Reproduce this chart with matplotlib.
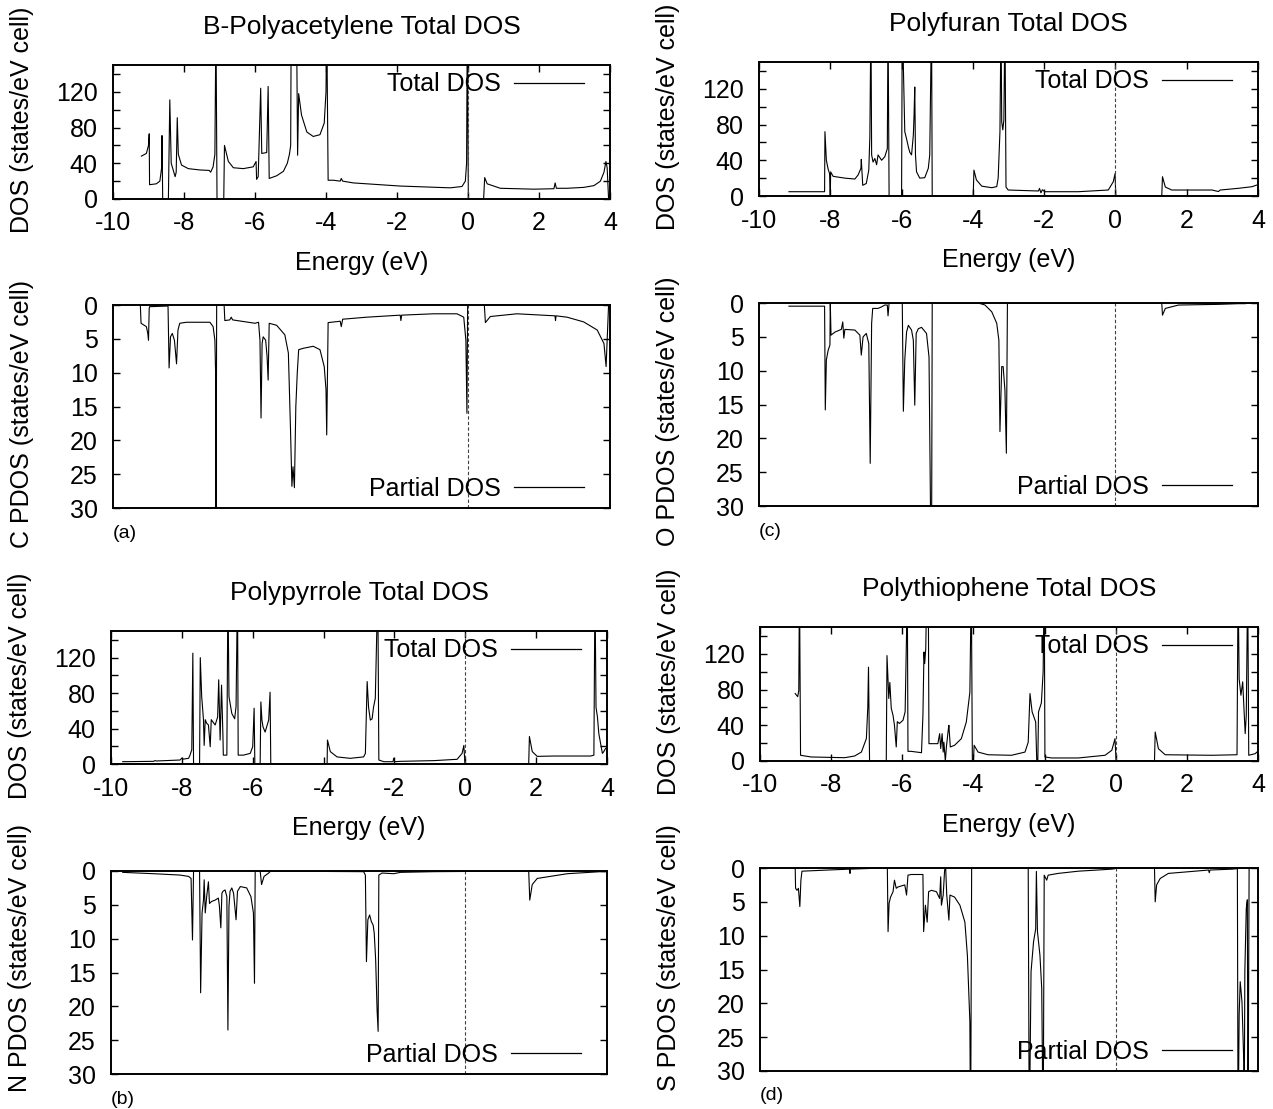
import matplotlib
matplotlib.use("Agg")
import matplotlib.pyplot as plt
from matplotlib.lines import Line2D

plt.rcParams['font.family'] = ['Liberation Sans', 'DejaVu Sans']
plt.rcParams['axes.unicode_minus'] = False

W, H = 1273, 1109
FS = 18

# ---------------- data (energy in eV, DOS in states/eV cell) ----------------
# (a) B-Polyacetylene
a_tot_e = [-9.20, -9.06, -9.00, -8.98, -8.97, -8.78, -8.68, -8.63, -8.62, -8.60, -8.44, -8.40, -8.36,
           -8.25, -8.22, -8.19, -8.16, -8.07, -7.88, -7.55, -7.29, -7.25, -7.18, -7.13, -7.10, -7.07,
           -6.88, -6.86, -6.75, -6.61, -6.33, -6.05, -5.97, -5.955, -5.91, -5.84, -5.81, -5.67, -5.63,
           -5.60, -5.39, -5.20, -5.09, -5.03, -4.995, -4.98, -4.83, -4.80, -4.77, -4.69, -4.54, -4.36,
           -4.17, -4.05, -4.00, -3.98, -3.94, -3.79, -3.60, -3.57, -3.53, -3.23, -1.91, -0.50, -0.17,
           -0.075, -0.04, -0.02, 0.01, 0.44, 0.47, 0.54, 0.91, 1.85, 2.42, 2.455, 2.49, 2.79, 3.26,
           3.55, 3.73, 3.83, 3.885, 3.92, 3.96]
a_tot = [48, 51, 60, 73, 16, 17, 20, 35, 71, 0, 0, 111, 40,
         25, 30, 91, 50, 38, 34, 32.5, 32, 30, 36, 50, 200, 0,
         0, 60, 42, 35, 34, 36, 42, 22, 25, 124, 51, 52, 126,
         23, 26, 31, 40, 50, 60, 200, 200, 49, 118, 94, 75, 70,
         72, 85, 120, 200, 21, 21, 20, 23, 20, 18, 14.5, 12.5, 14,
         20, 40, 200, 0, 0, 24, 17, 12, 11, 11.5, 18, 12, 12, 13,
         15, 20, 30, 42, 35, 0]
a_pdos_e = [-9.23, -9.21, -9.06, -9.02, -9.00, -8.98, -8.97, -8.45, -8.42, -8.38, -8.33, -8.27, -8.21,
            -8.17, -8.12, -7.93, -7.27, -7.18, -7.13, -7.11, -7.10, -7.08, -6.87, -6.85, -6.71, -6.67,
            -6.63, -6.00, -5.90, -5.86, -5.83, -5.80, -5.77, -5.70, -5.66, -5.63, -5.60, -5.39, -5.16,
            -5.06, -5.00, -4.96, -4.93, -4.89, -4.85, -4.81, -4.77, -4.64, -4.36, -4.17, -4.05, -4.00,
            -3.98, -3.94, -3.60, -3.57, -3.53, -2.85, -1.91, -1.89, -1.87, -0.97, -0.31, -0.12, -0.06,
            -0.03, -0.01, 0.46, 0.49, 0.63, 1.38, 2.45, 2.465, 2.48, 2.79, 3.26, 3.64, 3.83, 3.89,
            3.92, 3.96]
a_pdos = [0, 2.7, 3.2, 4.2, 5.2, 0.5, 0.25, 0.15, 9.3, 4.7, 4.2, 5.2, 8.7,
          3.7, 2.7, 2.55, 2.55, 3.2, 5.2, 10, 40, 0, 0, 2.3, 2.2, 1.8,
          2.2, 2.7, 2.55, 5.2, 16.7, 5.7, 4.7, 5.2, 7.6, 11.1, 2.7, 3.0, 4.4,
          7.1, 18.4, 26.8, 23.9, 27, 15, 10.1, 6.6, 6.4, 6.1, 6.6, 9.1, 12.5,
          19.2, 2.6, 2.4, 3.2, 2.1, 1.8, 1.5, 2.3, 1.5, 1.3, 1.3, 1.8, 5.2,
          16, 0, 0, 2.6, 1.7, 1.3, 1.6, 2.3, 1.6, 1.8, 2.5, 3.7, 5.7, 9.1,
          5.2, 0]

# (c) Polyfuran
c_tot_e = [-9.16, -8.16, -8.15, -8.11, -8.06, -8.02, -8.00, -7.99, -7.92, -7.59, -7.31, -7.22, -7.14,
           -7.13, -7.09, -6.99, -6.92, -6.89, -6.86, -6.84, -6.80, -6.75, -6.70, -6.66, -6.56, -6.47,
           -6.40, -6.38, -6.35, -6.00, -5.98, -5.91, -5.86, -5.81, -5.77, -5.72, -5.67, -5.65, -5.63,
           -5.61, -5.58, -5.49, -5.35, -5.25, -5.21, -5.16, -5.14, -3.99, -3.97, -3.90, -3.75, -3.47,
           -3.33, -3.29, -3.24, -3.21, -3.19, -3.16, -3.13, -3.10, -3.07, -3.01, -2.16, -2.13, -2.09,
           -2.05, -1.98, -1.04, -0.20, -0.06, -0.01, 0.01, 1.30, 1.32, 1.40, 1.58, 2.71, 2.89, 2.94,
           3.45, 3.83, 3.97]
c_tot = [4.8, 4.8, 72, 40, 30, 25, 0, 27, 22, 20, 19, 23.5, 31,
         41, 12, 14, 29, 66, 200, 46, 38, 42, 35, 46, 40, 44,
         53, 200, 0, 0, 200, 72, 64, 55, 49, 46, 68, 90, 122,
         46, 27, 20, 20.5, 31, 46, 200, 0, 0, 29, 18, 11, 9.3,
         10.5, 20, 72, 200, 83, 74, 85, 200, 10, 6.7, 5.6, 8.5, 3.5,
         7, 4.8, 4.8, 6.7, 16, 25, 0, 0, 21.6, 10, 6.7, 6.7, 5, 6.7,
         8.6, 10.4, 12.3]
c_pdos_e = [-9.16, -8.16, -8.14, -8.11, -8.06, -8.01, -8.00, -7.98, -7.87, -7.69, -7.65, -7.62, -7.59,
            -7.31, -7.17, -7.13, -7.08, -6.99, -6.92, -6.88, -6.84, -6.81, -6.66, -6.56, -6.47, -6.40,
            -6.38, -6.35, -5.98, -5.95, -5.91, -5.86, -5.81, -5.72, -5.67, -5.63, -5.59, -5.53, -5.44,
            -5.30, -5.23, -5.19, -5.16, -5.14, -3.85, -3.66, -3.47, -3.33, -3.27, -3.24, -3.19, -3.15,
            -3.10, -3.06, -3.03, 1.30, 1.32, 1.40, 1.77, 2.89, 3.45, 3.64]
c_pdos = [0.47, 0.47, 15.8, 8.4, 7.0, 6.2, 0, 4.75, 4.3, 3.9, 2.8, 5.2, 3.9,
          4.0, 4.75, 7.7, 5.0, 4.5, 6.0, 23.7, 3.0, 0.8, 0.8, 0.57, 0.3, 0.3,
          1.9, 0, 0, 16, 8.4, 4.3, 3.3, 4.0, 5.5, 15.1, 4.5, 3.8, 3.6,
          4.5, 8.0, 29.6, 40, 0, 0, 0.3, 1.3, 3.0, 5.5, 19, 9.4, 9.4,
          12.9, 22.2, 0, 0, 1.8, 0.8, 0.3, 0.2, 0.1, 0.1]

# (b) Polypyrrole
b_tot_e = [-9.67, -8.80, -8.76, -8.71, -8.05, -8.00, -7.96, -7.81, -7.77, -7.72, -7.69, -7.67, -7.50,
           -7.48, -7.44, -7.39, -7.37, -7.34, -7.30, -7.25, -7.20, -7.17, -7.06, -6.99, -6.96, -6.92,
           -6.88, -6.84, -6.83, -6.73, -6.70, -6.67, -6.59, -6.51, -6.47, -6.43, -6.41, -6.26, -6.07,
           -6.00, -5.96, -5.94, -5.79, -5.77, -5.74, -5.71, -5.65, -5.55, -5.51, -5.49, -3.90, -3.89,
           -3.81, -3.62, -3.25, -2.87, -2.82, -2.77, -2.73, -2.68, -2.63, -2.59, -2.54, -2.47, -2.44,
           -2.30, -2.04, -2.02, -1.99, -1.83, -0.89, -0.23, -0.09, -0.04, -0.01, 1.79, 1.81, 1.89,
           2.03, 2.50, 3.54, 3.63, 3.66, 3.69, 3.73, 3.77, 3.82, 3.87, 3.91, 3.96]
b_tot = [2.6, 3.0, 3.8, 3.4, 4.5, 6.7, 5.5, 6.4, 10, 16, 125, 0, 0,
         120, 76, 50, 21, 50, 46, 44, 19.5, 50, 44, 53, 95, 27,
         89, 31, 10, 10, 200, 76, 57, 51, 65, 200, 10, 10, 12,
         19.5, 63, 0, 0, 70, 49.5, 42, 36, 49.5, 81, 0, 0, 27,
         14, 8, 6.4, 8, 12, 93, 64, 49.5, 51, 64, 74, 200, 4.5,
         2.6, 2.6, 6.4, 2.6, 3.0, 3.8, 5.3, 12, 21, 0, 0, 31, 14,
         8.6, 9.0, 9.0, 10, 200, 64, 53, 34, 23, 12, 14, 17.6]
b_pdos_e = [-9.67, -8.80, -8.05, -7.81, -7.74, -7.70, -7.67, -7.50, -7.47, -7.43, -7.39, -7.37, -7.34,
            -7.30, -7.25, -7.22, -7.16, -7.06, -6.97, -6.94, -6.90, -6.87, -6.84, -6.78, -6.73, -6.70,
            -6.67, -6.64, -6.59, -6.54, -6.47, -6.43, -6.35, -6.17, -6.05, -5.98, -5.95, -5.93, -5.79,
            -5.75, -5.68, -5.55, -5.49, -3.90, -3.86, -2.87, -2.82, -2.79, -2.75, -2.70, -2.65, -2.60,
            -2.57, -2.53, -2.49, -2.46, -2.44, -2.35, -2.02, -1.83, -0.89, -0.04, -0.01, 1.79, 1.82,
            1.89, 2.03, 2.88, 3.82, 3.96]
b_pdos = [0.2, 0.4, 0.6, 0.8, 1.1, 10.2, 0, 0, 18, 6.2, 4.3, 1.3, 6.2,
          3.8, 1.6, 4.8, 4.5, 4.3, 4.0, 5.2, 8.4, 3.3, 3.0, 2.8, 3.8, 23.5,
          5.2, 3.0, 2.5, 3.3, 7.2, 3.0, 2.3, 2.5, 3.8, 6.2, 16.6, 0, 0,
          2.0, 0.8, 0.3, 0, 0, 0.07, 0.1, 0.6, 13.4, 7.2, 6.5, 7.5, 8.0,
          9.2, 13.1, 20.5, 23.7, 0.6, 0.3, 0.4, 0.2, 0.1, 0.07, 0, 0, 4.3,
          2.0, 1.1, 0.4, 0.1, 0.1]

# (d) Polythiophene
d_tot_e = [-9.01, -8.94, -8.91, -8.89, -8.86, -8.56, -7.62, -7.34, -7.15, -7.01, -6.97, -6.95, -6.92,
           -6.45, -6.43, -6.40, -6.38, -6.35, -6.31, -6.26, -6.22, -6.17, -6.14, -6.08, -5.98, -5.92,
           -5.88, -5.86, -5.84, -5.75, -5.46, -5.42, -5.39, -5.37, -5.34, -5.31, -5.27, -5.25, -5.00,
           -4.95, -4.92, -4.88, -4.85, -4.83, -4.79, -4.76, -4.71, -4.69, -4.65, -4.53, -4.34, -4.20,
           -4.10, -4.06, -4.03, -4.00, -3.98, -3.87, -3.59, -2.93, -2.55, -2.46, -2.41, -2.35, -2.25,
           -2.22, -2.19, -2.17, -2.09, -2.04, -2.01, -1.99, -1.80, -1.05, -0.30, -0.11, -0.02, 0.01,
           1.09, 1.11, 1.20, 1.39, 2.70, 3.41, 3.44, 3.47, 3.52, 3.57, 3.61, 3.64, 3.67, 3.71, 3.74,
           3.92, 3.97]
d_tot = [75.5, 72, 79, 200, 6.4, 4.5, 3.7, 5.6, 10, 25, 60, 105, 0,
         0, 118, 90, 70, 88, 59, 51, 40, 15.7, 44, 42, 45.6, 55,
         143, 200, 10.8, 10.8, 9.3, 51, 122, 109, 126, 200, 200, 19.4, 19.4,
         30.6, 14, 30.6, 10, 21, 0, 15.7, 34, 40, 15.7, 17.6, 25, 43.7,
         77, 200, 0, 0, 17.6, 10, 7, 6.4, 10, 21, 75.5, 55, 43.7,
         0, 0, 55, 65, 100, 200, 4.5, 3.4, 3.4, 6.4, 12, 25, 0,
         0, 32.5, 13.8, 7, 6.4, 7, 200, 92, 73.6, 88.6, 55, 30.6, 51, 200, 6.4,
         8.2, 10]
d_pdos_e = [-9.01, -9.00, -8.96, -8.92, -8.88, -8.85, -8.82, -8.09, -7.49, -7.47, -7.46, -6.92, -6.89,
            -6.42, -6.40, -6.37, -6.33, -6.26, -6.22, -6.17, -6.12, -5.93, -5.88, -5.84, -5.75, -5.42,
            -5.40, -5.35, -5.30, -5.26, -5.18, -5.04, -4.95, -4.92, -4.90, -4.85, -4.81, -4.78, -4.75,
            -4.69, -4.66, -4.53, -4.38, -4.24, -4.17, -4.10, -4.08, -4.05, -2.46, -2.43, -2.38, -2.31,
            -2.25, -2.23, -2.20, -2.13, -2.08, -2.04, -2.01, -1.94, -1.90, -1.62, -1.05, -0.11, -0.02,
            0.01, 1.09, 1.11, 1.15, 1.25, 1.48, 2.23, 2.61, 2.63, 2.65, 3.27, 3.42, 3.44, 3.47, 3.50,
            3.55, 3.60, 3.61, 3.63, 3.67, 3.70, 3.72, 3.75, 3.97]
d_pdos = [0, 3.0, 3.3, 3.0, 5.7, 1.8, 0.47, 0.3, 0.17, 0.8, 0.17, 0.07, 0,
          0, 9.4, 5.2, 4.3, 3.5, 1.8, 3.0, 2.8, 2.5, 4.0, 1.06, 0.96, 0.96,
          9.4, 5.5, 8.0, 3.5, 3.3, 3.5, 4.5, 1.3, 5.5, 4.0, 0.3, 0, 4.0,
          7.7, 4.0, 4.3, 5.5, 8.0, 12.9, 22.7, 40, 0, 0, 40, 15.3, 10.9,
          9.0, 0.5, 9.4, 12.9, 17.8, 40, 1.06, 1.8, 1.06, 0.8, 0.47, 0.17, 0.1,
          0, 0, 5.0, 2.5, 1.55, 0.8, 0.47, 0.3, 0.7, 0.3, 0.17, 0.1, 40, 21.7, 16.8,
          19.8, 28.6, 40, 15.3, 6.0, 4.7, 40, 0, 0]

titles = ['B-Polyacetylene Total DOS', 'Polyfuran Total DOS',
          'Polypyrrole Total DOS', 'Polythiophene Total DOS']
pdos_labels = ['C PDOS (states/eV cell)', 'O PDOS (states/eV cell)',
               'N PDOS (states/eV cell)', 'S PDOS (states/eV cell)']
tags = ['(a)', '(c)', '(b)', '(d)']

# pixel frames: (x0, y0, x1, y1) for total and partial axes, plus pdos label shift
panels = [
    dict(tot=(113, 65, 610, 199), par=(113, 305, 610, 508), shift=7,
         e=a_tot_e, d=a_tot, pe=a_pdos_e, p=a_pdos),
    dict(tot=(759, 62, 1258, 196), par=(759, 303, 1258, 506), shift=7,
         e=c_tot_e, d=c_tot, pe=c_pdos_e, p=c_pdos),
    dict(tot=(111, 631, 607, 764), par=(111, 871, 607, 1074), shift=-14,
         e=b_tot_e, d=b_tot, pe=b_pdos_e, p=b_pdos),
    dict(tot=(760, 627, 1258, 761), par=(760, 868, 1258, 1071), shift=-12,
         e=d_tot_e, d=d_tot, pe=d_pdos_e, p=d_pdos),
]

fig = plt.figure(figsize=(W / 100, H / 100), dpi=100)


def px_axes(box):
    x0, y0, x1, y1 = box
    return fig.add_axes([x0 / W, 1 - y1 / H, (x1 - x0) / W, (y1 - y0) / H])


def frame(ax):
    for s in ax.spines.values():
        s.set_linewidth(1.4)
    ax.tick_params(which='both', direction='in', length=5, width=1.0,
                   top=True, right=True, labelsize=FS)
    ax.tick_params(axis='x', pad=9)
    ax.tick_params(axis='y', pad=11)


def legend(ax, label, y):
    h = [Line2D([], [], color='k', lw=0.9)]
    ax.legend(h, [label], loc='center right', bbox_to_anchor=(0.947, y), frameon=False,
              markerfirst=False, fontsize=FS, handlelength=2.8, handletextpad=0.5,
              borderpad=0, borderaxespad=0)


for i, pn in enumerate(panels):
    # total DOS
    ax = px_axes(pn['tot'])
    ax.plot(pn['e'], pn['d'], color='k', lw=0.8)
    ax.axvline(0, color='0.25', lw=0.8, ls=(0, (3, 2)))
    ax.set_xlim(-10, 4)
    ax.set_ylim(0, 150)
    ax.set_xticks(range(-10, 5, 2))
    ax.set_yticks([0, 40, 80, 120])
    ax.set_yticks([20, 60, 100, 140], minor=True)
    frame(ax)
    legend(ax, 'Total DOS', 0.855)
    x0, y0, x1, y1 = pn['tot']
    fig.text((x0 + x1) / 2 / W, 1 - (y0 - 38) / H, titles[i], ha='center', va='center',
             fontsize=FS + 1)
    fig.text((x0 + x1) / 2 / W, 1 - (y1 + 64) / H, 'Energy (eV)', ha='center', va='center', fontsize=FS)
    fig.text((x0 - 91) / W, 1 - ((y0 + y1) / 2 - 12) / H, 'DOS (states/eV cell)', rotation=90,
             ha='center', va='center', fontsize=FS)

    # partial DOS (inverted)
    ax2 = px_axes(pn['par'])
    ax2.plot(pn['pe'], pn['p'], color='k', lw=0.8)
    ax2.axvline(0, color='0.25', lw=0.8, ls=(0, (3, 2)))
    ax2.set_xlim(-10, 4)
    ax2.set_ylim(30, 0)
    ax2.set_xticks([])
    ax2.set_yticks(range(0, 31, 5))
    frame(ax2)
    legend(ax2, 'Partial DOS', 0.095)
    x0, y0, x1, y1 = pn['par']
    fig.text((x0 - 91) / W, 1 - ((y0 + y1) / 2 + pn['shift']) / H, pdos_labels[i], rotation=90,
             ha='center', va='center', fontsize=FS)
    fig.text(x0 / W, 1 - (y1 + 25) / H, tags[i], ha='left', va='center', fontsize=14)

fig.savefig('out.png', dpi=100)
